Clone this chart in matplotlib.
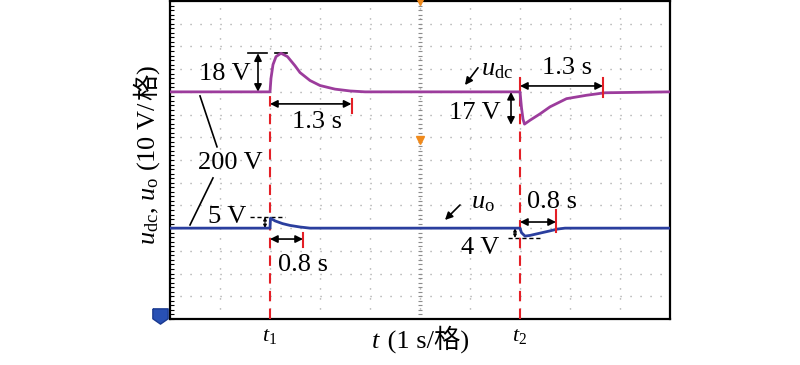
"""Oscilloscope-style waveform of u_dc and u_o during load steps."""

import matplotlib

matplotlib.use("Agg")
import matplotlib.pyplot as plt
from matplotlib.path import Path
from matplotlib.ticker import MultipleLocator
import numpy as np

FAMILY = ["Liberation Serif", "Noto Sans CJK SC"]
plt.rcParams["font.family"] = FAMILY
plt.rcParams["mathtext.fontset"] = "custom"
plt.rcParams["mathtext.rm"] = "Liberation Serif"
plt.rcParams["mathtext.it"] = "Liberation Serif:italic"

# time in divisions (1 s/div), values as deviation in V (10 V/div)
udc_t = [0, 2.0, 2.02, 2.06, 2.12, 2.22, 2.35, 2.5, 2.6, 2.8, 3.0, 3.3, 3.6, 3.9,
         7.0, 7.03, 7.06, 7.09, 7.2, 7.4, 7.6, 7.93, 8.33, 8.7, 10]
udc_v = [0, 0, 6, 12, 15.5, 17, 15.5, 11.5, 8.5, 5, 2.8, 1.2, 0.4, 0,
         0, -7, -12, -14.2, -12.5, -9.7, -6.6, -3, -1.5, -0.4, 0]
uo_t = [0, 2.0, 2.01, 2.1, 2.25, 2.4, 2.6, 2.8, 7.0, 7.03, 7.1, 7.2, 7.4, 7.6, 7.75, 7.9, 10]
uo_v = [0, 0, 4.4, 3.2, 2.0, 1.2, 0.5, 0, 0, -2.0, -3.5, -3.2, -2.2, -1.2, -0.4, 0, 0]
udc_base = 10   # screen division of u_dc trace
uo_base = 4     # screen division of u_o trace
t1, t2 = 2, 7

fig = plt.figure(figsize=(8, 3.65), dpi=100)
ax = fig.add_axes([170 / 800, 1 - 319 / 365, 500 / 800, 318 / 365])
ax.set_xlim(0, 10)
ax.set_ylim(0, 14)

# grid
for x in range(1, 10):
    ax.axvline(x, color="#9a9a9a", lw=1.0, ls=(0, (0.8, 6.4)), zorder=1)
for y in range(1, 14):
    ax.axhline(y, color="#9a9a9a", lw=1.0, ls=(0, (0.8, 6.4)), zorder=1)
# centre axis with fine ticks
yy = np.arange(0, 14.01, 0.2)
ax.plot(np.full_like(yy, 5), yy, ls="none", marker="_", ms=3.5, mew=0.8,
        color="#8c8c8c", zorder=1)

# traces
ax.plot(udc_t, udc_base + np.array(udc_v) / 10, color="#9c3c9c", lw=2.0,
        zorder=4, solid_joinstyle="round")
ax.plot(uo_t, uo_base + np.array(uo_v) / 10, color="#2a3e9e", lw=2.0,
        zorder=4, solid_joinstyle="round")

# red event markers
red = "#e41f26"
ax.plot([t1, t1], [0, 10], color=red, lw=1.5, ls=(0, (5, 3.5)), zorder=3)
ax.plot([t2, t2], [0, 9.8], color=red, lw=1.5, ls=(0, (5, 3.5)), zorder=3)
ax.plot([t2, t2], [9.8, 10.6], color=red, lw=1.5, zorder=3)
for x, y0, y1 in [(3.63, 9.07, 9.69), (8.66, 9.78, 10.6), (2.66, 3.17, 3.79), (7.72, 3.83, 4.8)]:
    ax.plot([x, x], [y0, y1], color=red, lw=1.5, zorder=5)

fs = 19
arr = dict(arrowstyle="<|-|>", color="black", lw=1.2, mutation_scale=11, shrinkA=0, shrinkB=0)
one = dict(arrowstyle="-|>", color="black", lw=1.2, mutation_scale=11, shrinkA=0, shrinkB=0)
tiny = dict(arrowstyle="<|-|>", color="black", lw=0.8, mutation_scale=5, shrinkA=0, shrinkB=0)

# 18 V
ax.plot([1.56, 1.94], [11.7, 11.7], color="black", lw=1.2)
ax.plot([2.1, 2.34], [11.7, 11.7], color="black", lw=1.2)
ax.annotate("", xy=(1.76, 11.7), xytext=(1.76, 10.0), arrowprops=arr)
ax.text(1.1, 10.8, "18 V", fontsize=fs, ha="center", va="center")
# 1.3 s (first)
ax.annotate("", xy=(2.0, 9.47), xytext=(3.63, 9.47), arrowprops=arr)
ax.text(2.94, 8.68, "1.3 s", fontsize=fs, ha="center", va="center")
# 1.3 s (second)
ax.annotate("", xy=(7.0, 10.26), xytext=(8.66, 10.26), arrowprops=arr)
ax.text(7.94, 11.06, "1.3 s", fontsize=fs, ha="center", va="center")
# 17 V
ax.annotate("", xy=(6.82, 10.0), xytext=(6.82, 8.55), arrowprops=arr)
ax.text(6.1, 9.07, "17 V", fontsize=fs, ha="center", va="center")
# u_dc label
ax.text(6.55, 10.97, r"$u_{\mathrm{dc}}$", fontsize=fs, ha="center", va="center")
ax.annotate("", xy=(5.9, 10.3), xytext=(6.16, 11.06), arrowprops=one)
# 200 V
ax.text(1.2, 6.87, "200 V", fontsize=fs, ha="center", va="center")
ax.plot([0.6, 0.94], [9.82, 7.58], color="black", lw=1.2)
ax.plot([0.86, 0.4], [6.21, 4.14], color="black", lw=1.2)
# 5 V
ax.text(1.15, 4.49, "5 V", fontsize=fs, ha="center", va="center")
ax.plot([1.6, 2.3], [4.49, 4.49], color="black", lw=1.0, ls=(0, (3, 2)))
ax.annotate("", xy=(1.9, 4.49), xytext=(1.9, 4.0), arrowprops=tiny)
# 0.8 s (first)
ax.annotate("", xy=(2.0, 3.52), xytext=(2.66, 3.52), arrowprops=arr)
ax.text(2.66, 2.38, "0.8 s", fontsize=fs, ha="center", va="center")
# 0.8 s (second)
ax.annotate("", xy=(7.0, 4.27), xytext=(7.72, 4.27), arrowprops=arr)
ax.text(7.64, 5.15, "0.8 s", fontsize=fs, ha="center", va="center")
# 4 V
ax.plot([6.76, 7.4], [3.57, 3.57], color="black", lw=1.0, ls=(0, (3, 2)))
ax.annotate("", xy=(6.9, 3.57), xytext=(6.9, 4.0), arrowprops=tiny)
ax.text(6.2, 3.13, "4 V", fontsize=fs, ha="center", va="center")
# u_o label
ax.text(6.25, 5.11, r"$u_{\mathrm{o}}$", fontsize=fs, ha="center", va="center")
ax.annotate("", xy=(5.5, 4.36), xytext=(5.8, 5.02), arrowprops=one)

# scope markers
ax.plot([5], [14], marker="v", ms=6, color="#f08a1c", clip_on=False, zorder=6)
ax.plot([5], [7.9], marker="v", ms=6, color="#f08a1c", clip_on=False, zorder=6)
chan = Path([(-1, 1), (1, 1), (1, -0.3), (0, -1), (-1, -0.3), (-1, 1)])
ax.plot([-0.2], [0.15], marker=chan, ms=11, color="#2850b4", mec="#1a3a90",
        clip_on=False, zorder=6)

# axes
for s in ax.spines.values():
    s.set_linewidth(1.6)
ax.set_xticks([t1, t2])
ax.set_xticklabels([r"$t_1$", r"$t_2$"], fontsize=16)
ax.tick_params(axis="x", length=0, pad=6)
ax.set_yticks([])
ax.yaxis.set_minor_locator(MultipleLocator(0.2))
ax.tick_params(axis="y", which="minor", direction="in", length=3, width=0.8, left=True)


def place_pieces(pieces, x0, y0, vertical=False):
    """Lay out mixed math / CJK text pieces along one baseline, centred on x0 or y0 (pixels)."""
    renderer = fig.canvas.get_renderer()
    texts = [fig.text(0, 0, s, fontsize=fs, family=FAMILY,
                      rotation=90 if vertical else 0,
                      ha="left", va="baseline", rotation_mode="anchor")
             for s in pieces]
    sizes = []
    for t in texts:
        bb = t.get_window_extent(renderer)
        sizes.append(bb.height if vertical else bb.width)
    pos = (y0 if vertical else x0) - sum(sizes) / 2
    for t, sz in zip(texts, sizes):
        if vertical:
            t.set_position((x0 / 800, pos / 365))
        else:
            t.set_position((pos / 800, y0 / 365))
        pos += sz


# x label (pixels from bottom-left)
place_pieces([r"$t$", " (1 s/格)"], 420, 365 - 348)
# y label (x0 is the baseline)
place_pieces([r"$u_{\mathrm{dc}}$, $u_{\mathrm{o}}$ (10 V/", "格", ")"],
             155, 365 - 155, vertical=True)

fig.savefig("out.png", dpi=100)
